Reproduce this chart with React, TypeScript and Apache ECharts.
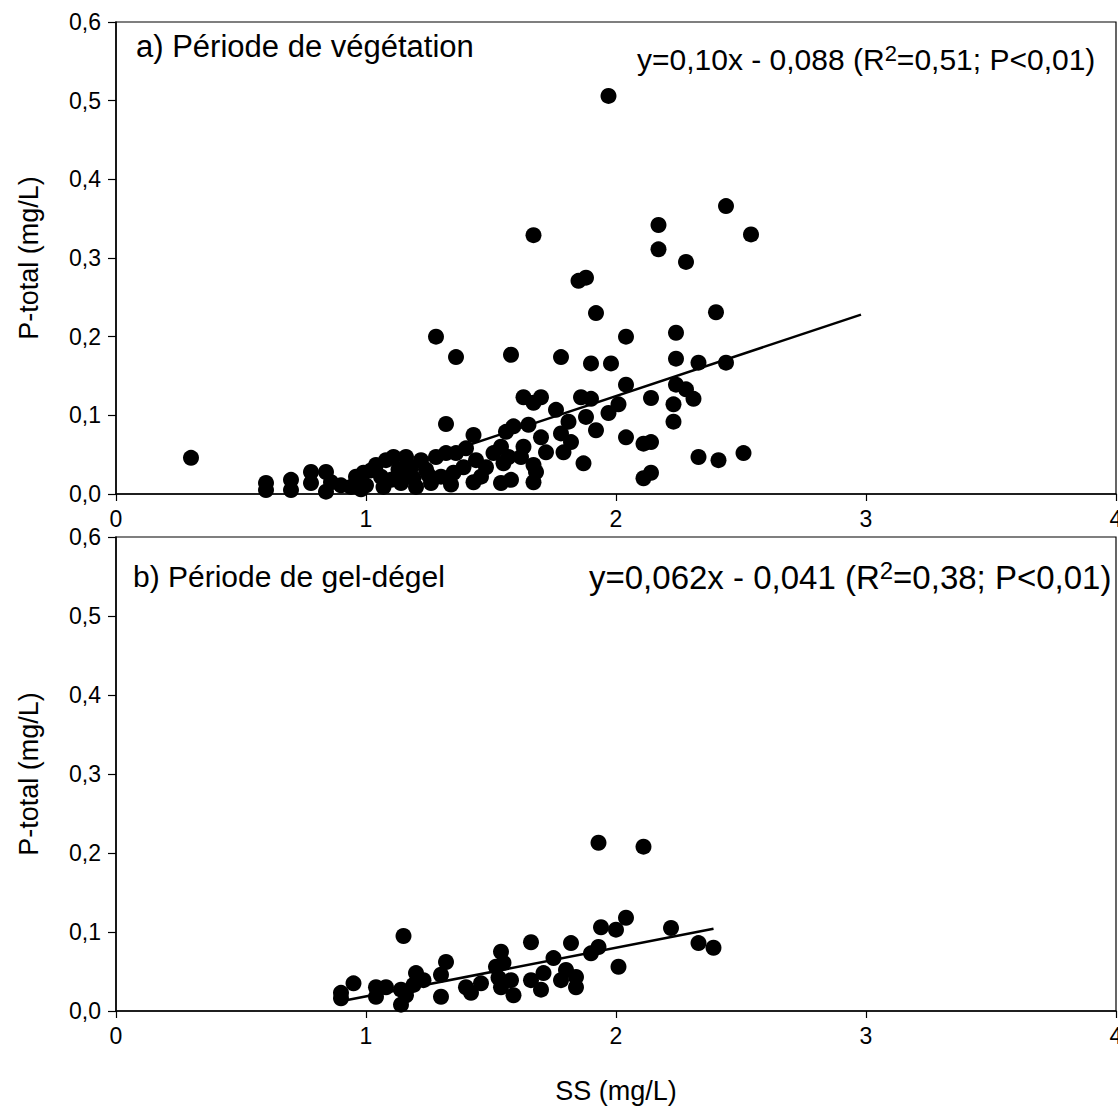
import React, { useEffect, useRef } from "react";
import * as echarts from "echarts";

// Panel a) Période de végétation: SS (mg/L) and P-total (mg/L)
const ssVeg = [
  0.30, 0.60, 0.60, 0.70, 0.70, 0.78, 0.78, 0.84, 0.86, 0.84,
  0.90, 0.94, 0.96, 0.99, 1.00, 1.04, 1.06, 1.07, 1.08, 1.11,
  1.13, 1.14, 1.16, 1.18, 1.19, 1.20, 1.22, 1.24, 1.26, 1.28,
  1.30, 1.32, 1.35, 1.36, 1.39, 1.40, 1.43, 1.44, 1.46, 1.48,
  1.51, 1.32, 1.43, 1.54, 1.58, 1.54, 1.57, 1.55, 1.56, 1.59,
  1.65, 1.63, 1.62, 1.67, 1.68, 1.67, 1.70, 1.72, 1.63, 1.67,
  1.70, 1.76, 1.81, 1.78, 1.82, 1.79, 1.87, 1.86, 1.90, 1.88,
  1.92, 1.97, 2.01, 2.04, 2.04, 2.11, 2.14, 2.11, 2.14, 2.14,
  2.23, 2.23, 2.24, 2.28, 2.31, 2.33, 2.41, 2.51, 1.28, 1.36,
  1.58, 1.78, 1.90, 1.98, 2.04, 1.92, 2.24, 2.24, 2.33, 2.44,
  2.40, 1.85, 1.88, 2.17, 2.17, 2.28, 2.54, 2.44, 1.67, 1.97,
  0.98, 1.10, 1.25, 1.34, 1.02, 1.16,
];
const pVeg = [
  0.046, 0.014, 0.005, 0.018, 0.005, 0.028, 0.014, 0.028, 0.015, 0.003,
  0.011, 0.009, 0.022, 0.027, 0.011, 0.037, 0.022, 0.009, 0.043, 0.047,
  0.031, 0.014, 0.047, 0.034, 0.020, 0.009, 0.043, 0.031, 0.014, 0.047,
  0.022, 0.052, 0.027, 0.052, 0.034, 0.058, 0.015, 0.043, 0.022, 0.034,
  0.052, 0.089, 0.075, 0.014, 0.018, 0.060, 0.047, 0.039, 0.079, 0.086,
  0.088, 0.060, 0.047, 0.037, 0.028, 0.015, 0.072, 0.053, 0.123, 0.116,
  0.123, 0.107, 0.092, 0.077, 0.066, 0.053, 0.039, 0.123, 0.121, 0.098,
  0.081, 0.103, 0.114, 0.139, 0.072, 0.064, 0.066, 0.020, 0.027, 0.122,
  0.114, 0.092, 0.139, 0.133, 0.121, 0.047, 0.043, 0.052, 0.200, 0.174,
  0.177, 0.174, 0.166, 0.166, 0.200, 0.230, 0.205, 0.172, 0.167, 0.167,
  0.231, 0.271, 0.275, 0.342, 0.311, 0.295, 0.330, 0.366, 0.329, 0.506,
  0.006, 0.018, 0.024, 0.012, 0.030, 0.026,
];
const lineVegX = [1.2, 2.98];
const lineVegY = [0.04, 0.228];

// Panel b) Période de gel-dégel
const ssGel = [
  0.90, 0.90, 0.95, 1.04, 1.04, 1.08, 1.15, 1.14, 1.14, 1.16,
  1.20, 1.23, 1.19, 1.32, 1.30, 1.30, 1.40, 1.42, 1.46, 1.54,
  1.52, 1.55, 1.53, 1.54, 1.58, 1.59, 1.66, 1.66, 1.70, 1.71,
  1.75, 1.78, 1.80, 1.82, 1.84, 1.84, 1.90, 1.93, 1.94, 2.00,
  2.04, 2.01, 2.22, 2.33, 2.39, 1.93, 2.11,
];
const pGel = [
  0.023, 0.016, 0.035, 0.030, 0.018, 0.030, 0.095, 0.027, 0.008, 0.020,
  0.048, 0.039, 0.033, 0.062, 0.046, 0.018, 0.030, 0.023, 0.035, 0.075,
  0.056, 0.061, 0.042, 0.030, 0.039, 0.020, 0.087, 0.039, 0.027, 0.048,
  0.067, 0.039, 0.052, 0.086, 0.043, 0.030, 0.073, 0.081, 0.106, 0.103,
  0.118, 0.056, 0.105, 0.086, 0.080, 0.213, 0.208,
];
const lineGelX = [0.91, 2.39];
const lineGelY = [0.013, 0.104];

const xTicks = [0, 1, 2, 3, 4];
const yTicks = [0, 0.1, 0.2, 0.3, 0.4, 0.5, 0.6];

const FONT = "Liberation Sans, Arial, sans-serif";

export default function App() {
  const ref = useRef<HTMLDivElement>(null);
  useEffect(() => {
    const chart = echarts.init(ref.current!, null, { renderer: "svg" });
    const pair = (xs: number[], ys: number[]) => xs.map((x, i) => [x, ys[i]]);
    const grids = [
      { left: 116, top: 22, width: 1000, height: 472 },
      { left: 116, top: 537, width: 1000, height: 474 },
    ];
    const xAxis = [0, 1].map((i) => ({
      type: "value",
      gridIndex: i,
      min: xTicks[0],
      max: xTicks[xTicks.length - 1],
      interval: 1,
      axisLine: { show: true, lineStyle: { color: "#000", width: 1.5 } },
      axisTick: { show: true, inside: false, length: 7, lineStyle: { color: "#000", width: 1.2 } },
      axisLabel: { color: "#000", fontSize: 23, fontFamily: FONT, margin: 13 },
      splitLine: { show: false },
      name: i === 1 ? "SS (mg/L)" : "",
      nameLocation: "middle",
      nameGap: 66,
      nameTextStyle: { color: "#000", fontSize: 27, fontFamily: FONT },
    }));
    const yAxis = [0, 1].map((i) => ({
      type: "value",
      gridIndex: i,
      min: yTicks[0],
      max: yTicks[yTicks.length - 1],
      interval: 0.1,
      axisLine: { show: true, lineStyle: { color: "#000", width: 1.5 } },
      axisTick: { show: true, inside: false, length: 8, lineStyle: { color: "#000", width: 1.2 } },
      axisLabel: {
        color: "#000",
        fontSize: 23,
        fontFamily: FONT,
        margin: 15,
        formatter: (v: number) => v.toFixed(1).replace(".", ","),
      },
      splitLine: { show: false },
      name: "P-total (mg/L)",
      nameLocation: "middle",
      nameGap: 74,
      nameTextStyle: { color: "#000", fontSize: 27, fontFamily: FONT },
    }));
    const scatter = (i: number, data: number[][]) => ({
      type: "scatter",
      xAxisIndex: i,
      yAxisIndex: i,
      data,
      symbol: "circle",
      symbolSize: 16,
      itemStyle: { color: "#000", opacity: 1 },
      z: 3,
    });
    const line = (i: number, data: number[][]) => ({
      type: "line",
      xAxisIndex: i,
      yAxisIndex: i,
      data,
      showSymbol: false,
      symbol: "none",
      lineStyle: { color: "#000", width: 2.5 },
      z: 2,
    });
    const richFor = (size: number) => ({
      n: { fontSize: size, fontFamily: FONT, fill: "#000" },
      sup: {
        fontSize: Math.round(size * 0.72),
        fontFamily: FONT,
        fill: "#000",
        verticalAlign: "top",
        padding: [0, 0, Math.round(size * 0.42), 0],
      },
    });
    chart.setOption({
      animation: false,
      backgroundColor: "#fff",
      grid: grids.map((g) => ({
        ...g,
        show: true,
        borderColor: "#000",
        borderWidth: 1.2,
        backgroundColor: "transparent",
        outerBoundsMode: "none",
        containLabel: false,
      })),
      xAxis,
      yAxis,
      series: [
        scatter(0, pair(ssVeg, pVeg)),
        line(0, pair(lineVegX, lineVegY)),
        scatter(1, pair(ssGel, pGel)),
        line(1, pair(lineGelX, lineGelY)),
      ],
      graphic: [
        {
          type: "text",
          left: 136,
          top: 31,
          style: { text: "a) Période de végétation", fontSize: 31, fontFamily: FONT, fill: "#000" },
        },
        {
          type: "text",
          left: 637,
          top: 42,
          style: {
            text: "{n|y=0,10x - 0,088 (R}{sup|2}{n|=0,51; P<0,01)}",
            rich: richFor(30),
          },
        },
        {
          type: "text",
          left: 133,
          top: 561,
          style: { text: "b) Période de gel-dégel", fontSize: 30, fontFamily: FONT, fill: "#000" },
        },
        {
          type: "text",
          left: 589,
          top: 558,
          style: {
            text: "{n|y=0,062x - 0,041 (R}{sup|2}{n|=0,38; P<0,01)}",
            rich: richFor(33),
          },
        },
      ],
    });
    return () => chart.dispose();
  }, []);
  return <div ref={ref} style={{ width: 1118, height: 1111, position: "absolute", left: 0, top: 0 }} />;
}
